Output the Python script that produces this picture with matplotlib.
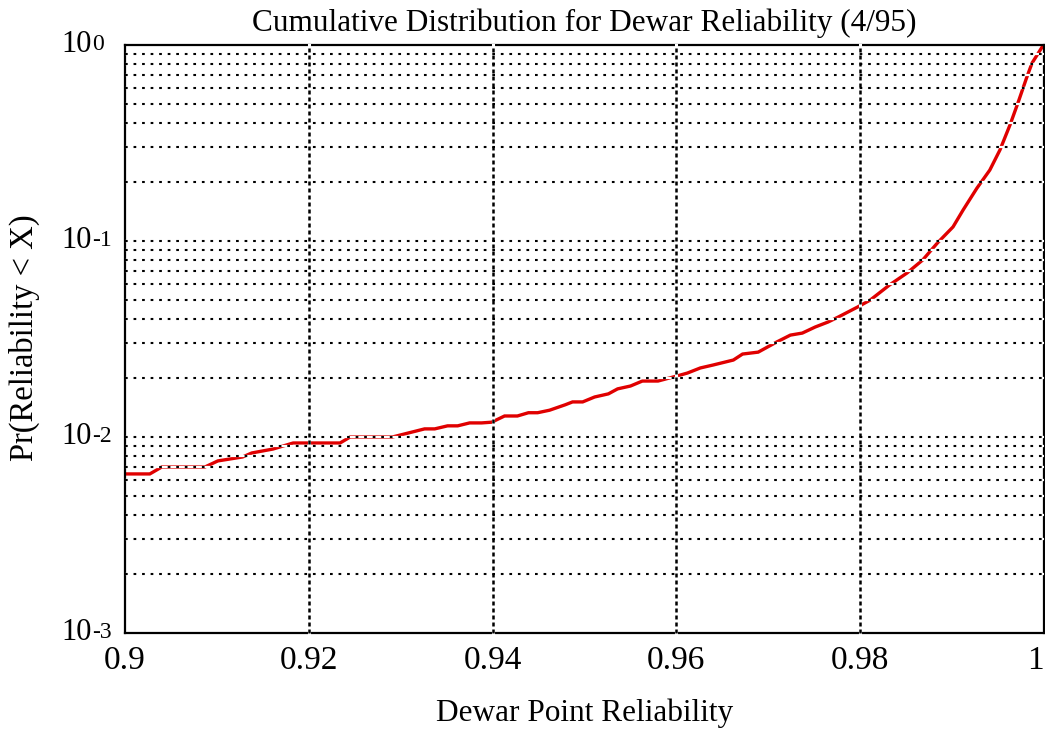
import matplotlib
matplotlib.use("Agg")
import matplotlib.pyplot as plt
import matplotlib.transforms as mtransforms

# ---- data ----
reliability = [0.9000, 0.9027, 0.9040, 0.9087, 0.9101, 0.9128, 0.9138, 0.9161,
               0.9183, 0.9234, 0.9245, 0.9291, 0.9326, 0.9337, 0.9351, 0.9362,
               0.9375, 0.9388, 0.9399, 0.9413, 0.9427, 0.9439, 0.9449, 0.9462,
               0.9479, 0.9487, 0.9498, 0.9511, 0.9526, 0.9536, 0.9550, 0.9563,
               0.9580, 0.9601, 0.9612, 0.9626, 0.9640, 0.9662, 0.9672, 0.9689,
               0.9709, 0.9724, 0.9737, 0.9751, 0.9765, 0.9776, 0.9797, 0.9811,
               0.9832, 0.9851, 0.9868, 0.9884, 0.9901, 0.9912, 0.9927, 0.9941,
               0.9952, 0.9963, 0.9972, 0.9981, 0.9987, 0.9998, 1.0000]
probability = [0.00648, 0.00648, 0.00703, 0.00703, 0.00755, 0.00791, 0.00829, 0.00868,
               0.00932, 0.00932, 0.0100, 0.0100, 0.0110, 0.0110, 0.0114, 0.0114,
               0.0118, 0.0118, 0.0119, 0.0128, 0.0128, 0.0133, 0.0133, 0.0137,
               0.0146, 0.0151, 0.0151, 0.0160, 0.0166, 0.0176, 0.0182, 0.0193,
               0.0193, 0.0205, 0.0212, 0.0225, 0.0233, 0.0247, 0.0265, 0.0271,
               0.0305, 0.0331, 0.0339, 0.0364, 0.0386, 0.0409, 0.0460, 0.0500,
               0.0597, 0.0687, 0.0800, 0.0977, 0.118, 0.144, 0.186, 0.230,
               0.291, 0.391, 0.512, 0.679, 0.809, 0.977, 1.0]

x_ticks = [0.9, 0.92, 0.94, 0.96, 0.98, 1.0]
x_tick_labels = ["0.9", "0.92", "0.94", "0.96", "0.98", "1"]
y_exponents = [0, -1, -2, -3]

title = "Cumulative Distribution for Dewar Reliability (4/95)"
xlabel = "Dewar Point Reliability"
ylabel = "Pr(Reliability < X)"

# ---- style ----
FONT = "Liberation Serif"
plt.rcParams["font.family"] = FONT
W, H = 1045, 732
fig = plt.figure(figsize=(W / 100, H / 100), dpi=100)
ax = fig.add_axes([125 / W, 1 - 633 / H, (1044 - 125) / W, (633 - 45) / H])

ax.plot(reliability, probability, color="#e00000", lw=2.4, zorder=2,
        solid_joinstyle="miter")

ax.set_yscale("log")
ax.set_xlim(0.9, 1.0)
ax.set_ylim(1e-3, 1.0)

for s in ax.spines.values():
    s.set_linewidth(1.6)
    s.set_color("black")
    s.set_zorder(3)

# gridlines: white underlay + black dots, drawn above curve and spines
grid_y = []
for e in y_exponents[1:]:
    for m in range(1, 10):
        v = m * 10.0 ** e
        if 1e-3 < v < 1.0:
            grid_y.append(v)
for v in grid_y:
    ax.axhline(v, color="white", lw=1.6, zorder=4)
    ax.axhline(v, color="black", lw=1.5, linestyle=(0, (1.3, 2.8)), zorder=5,
               dash_capstyle="butt")
for v in x_ticks[1:-1]:
    ax.axvline(v, color="white", lw=2.2, zorder=4, clip_on=False)
    ax.axvline(v, color="black", lw=1.8, linestyle=(0, (1.6, 1.2)), zorder=5,
               dash_capstyle="butt", clip_on=False)

ax.set_xticks(x_ticks)
ax.set_xticklabels(x_tick_labels)
ax.set_yticks([])
ax.minorticks_off()
ax.set_yticks([], minor=True)
ax.tick_params(axis="x", length=0, pad=9, labelsize=24)
last = ax.get_xticklabels()[-1]
last.set_horizontalalignment("right")

# y tick labels like "10-1" with smaller exponent
blend = mtransforms.blended_transform_factory(fig.transFigure, ax.transData)
t_base = mtransforms.offset_copy(blend, fig=fig, x=0, y=-7, units="dots")
t_exp = mtransforms.offset_copy(blend, fig=fig, x=0, y=-5, units="dots")
for e in y_exponents:
    ax.text(92 / W, 10.0 ** e, "10", transform=t_base, ha="right", va="baseline",
            fontsize=22, clip_on=False)
    ax.text(92 / W, 10.0 ** e, f"{e}", transform=t_exp, ha="left", va="baseline",
            fontsize=17, clip_on=False)

ax.set_title(title, fontsize=22.5, pad=10)
fig.text(585 / W, 1 - 721 / H, xlabel, ha="center", va="baseline", fontsize=22.5)
fig.text(24 / W, 1 - 338 / H, ylabel, ha="center", va="center", rotation=90,
         fontsize=23.5)

fig.savefig("out.png", dpi=100)
